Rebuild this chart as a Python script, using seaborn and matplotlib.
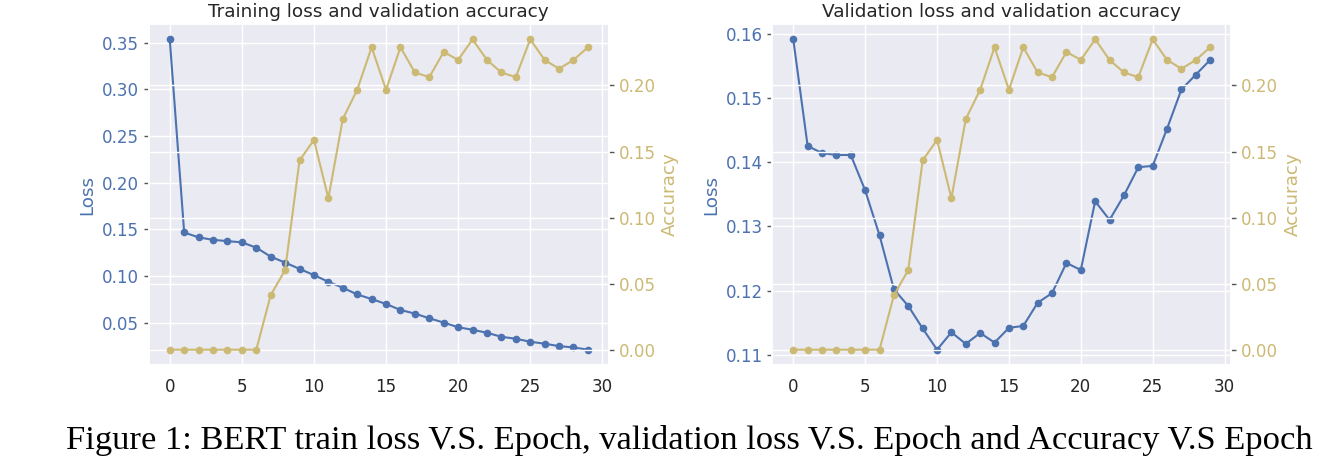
import matplotlib
matplotlib.use('Agg')
import matplotlib.pyplot as plt
import seaborn as sns

# Values
epochs = list(range(30))
train_loss = [0.3535, 0.1468, 0.1415, 0.1389, 0.1375, 0.1362, 0.1305, 0.1209,
              0.1145, 0.1078, 0.1011, 0.0940, 0.0876, 0.0804, 0.0755, 0.0702,
              0.0638, 0.0599, 0.0549, 0.0503, 0.0453, 0.0426, 0.0394, 0.0351,
              0.0330, 0.0298, 0.0277, 0.0251, 0.0237, 0.0213]
val_loss = [0.1591, 0.1425, 0.1414, 0.1411, 0.1411, 0.1356, 0.1286, 0.1202,
            0.1176, 0.1141, 0.1108, 0.1135, 0.1117, 0.1134, 0.1119, 0.1142,
            0.1145, 0.1181, 0.1196, 0.1243, 0.1232, 0.1339, 0.1310, 0.1348,
            0.1392, 0.1394, 0.1452, 0.1513, 0.1536, 0.1559]
val_acc = [0.0, 0.0, 0.0, 0.0, 0.0, 0.0, 0.0, 0.0412, 0.0603, 0.1432, 0.1588,
           0.1146, 0.1746, 0.1967, 0.2289, 0.1967, 0.2289, 0.2098, 0.2063,
           0.2254, 0.2193, 0.2349, 0.2193, 0.2098, 0.2063, 0.2349, 0.2193,
           0.2126, 0.2193, 0.2289]

titles = ['Training loss and validation accuracy',
          'Validation loss and validation accuracy']
caption = ('Figure 1: BERT train loss V.S. Epoch, validation loss V.S. Epoch '
           'and Accuracy V.S Epoch')

# Set plotting style
sns.set_theme(style='darkgrid', palette='deep', font_scale=1.1)
deep = sns.color_palette('deep')
LOSS_C = deep[0]
ACC_C = deep[8]
TICK_C = '#555555'

fig = plt.figure(figsize=(13.41, 4.67), dpi=100)
ax_l = fig.add_axes([0.111, 0.218, 0.343, 0.731])
ax_r = fig.add_axes([0.576, 0.218, 0.342, 0.731])

for ax, loss, title in zip([ax_l, ax_r], [train_loss, val_loss], titles):
    # Loss on the left axis
    sns.lineplot(x=epochs, y=loss, ax=ax, color=LOSS_C, marker='o',
                 markersize=5.5, markeredgewidth=0, linewidth=1.5)
    ax.set_ylabel('Loss', color=LOSS_C)
    ax.tick_params(axis='y', labelcolor=LOSS_C, left=True, length=3.5,
                   width=1, color=TICK_C)
    ax.set_xticks([0, 5, 10, 15, 20, 25, 30])
    ax.set_title(title, fontsize=13.3, pad=5)

    # Accuracy on the right axis
    ax2 = ax.twinx()
    sns.lineplot(x=epochs, y=val_acc, ax=ax2, color=ACC_C, marker='o',
                 markersize=5.5, markeredgewidth=0, linewidth=1.5)
    ax2.set_ylabel('Accuracy', color=ACC_C)
    ax2.tick_params(axis='y', labelcolor=ACC_C, right=True, length=3.5,
                    width=1, color=TICK_C)
    ax2.set_yticks([0.0, 0.05, 0.10, 0.15, 0.20])
    ax2.set_yticklabels(['0.00', '0.05', '0.10', '0.15', '0.20'])

ax_l.set_yticks([0.05, 0.10, 0.15, 0.20, 0.25, 0.30, 0.35])
ax_l.set_yticklabels(['0.05', '0.10', '0.15', '0.20', '0.25', '0.30', '0.35'])
ax_r.set_yticks([0.11, 0.12, 0.13, 0.14, 0.15, 0.16])
ax_r.set_yticklabels(['0.11', '0.12', '0.13', '0.14', '0.15', '0.16'])

# Caption under the panels
fig.text(0.514, 0.056, caption, ha='center', va='center', fontsize=24.8,
         family='Liberation Serif', color='black')

fig.savefig('out.png', dpi=100)
plt.close()
